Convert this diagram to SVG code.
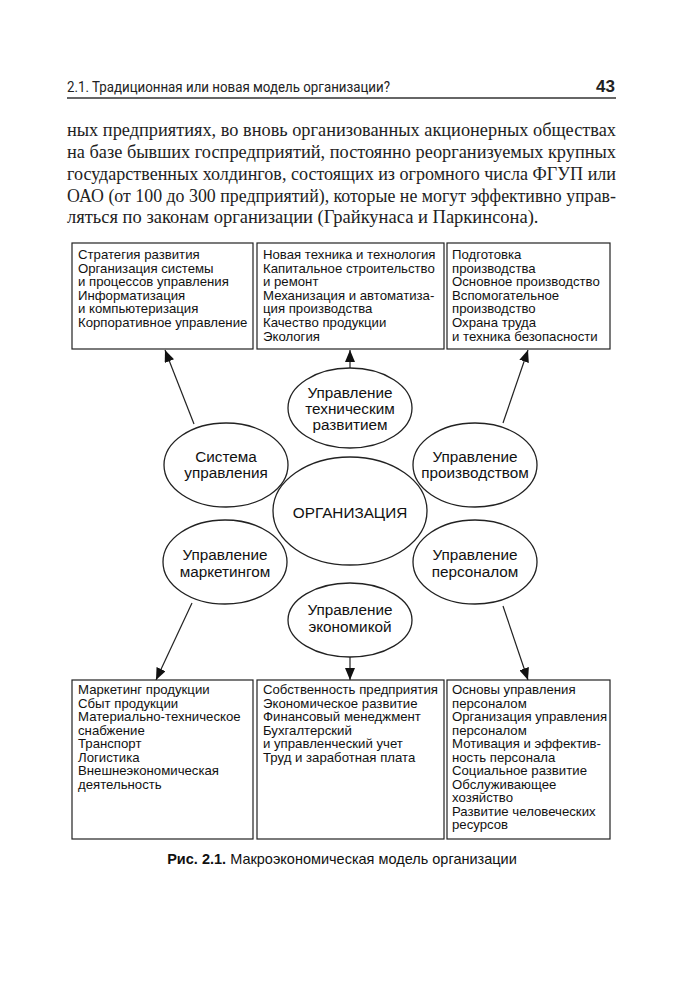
<svg xmlns="http://www.w3.org/2000/svg" width="683" height="1000" viewBox="0 0 683 1000">
<defs>
<style>
.hdr{font-family:Roboto,"Liberation Sans",sans-serif;font-size:15.5px;fill:#222}
.pn{font-family:"Liberation Sans",Arial,sans-serif;font-size:17px;font-weight:bold;fill:#222}
.para{font-family:"Liberation Serif","DejaVu Serif",serif;font-size:18.5px;fill:#222}
.box{fill:#fff;stroke:#222;stroke-width:1.2}
.bt{font-family:"Liberation Sans",Arial,sans-serif;font-size:13.2px;fill:#111}
.ell{fill:#fff;stroke:#222;stroke-width:1.3}
.et{font-family:"Liberation Sans",Arial,sans-serif;font-size:15.3px;fill:#111;text-anchor:middle}
.conn{stroke:#222;stroke-width:1.2;fill:none;marker-end:url(#ah)}
.cap{font-family:"Liberation Sans",Arial,sans-serif;font-size:14.5px;fill:#111}
</style>
<marker id="ah" viewBox="0 0 12 10" refX="12" refY="5" markerWidth="12" markerHeight="10" markerUnits="userSpaceOnUse" orient="auto">
<path d="M0,0 L12,5 L0,10 z" fill="#111"/>
</marker>
</defs>
<rect width="683" height="1000" fill="#fff"/>

<g id="header">
<text class="hdr" x="67" y="92" textLength="323" lengthAdjust="spacingAndGlyphs">2.1. Традиционная или новая модель организации?</text>
<text class="pn" x="615" y="92" text-anchor="end">43</text>
<line x1="67" y1="98" x2="616" y2="98" stroke="#333" stroke-width="1.3"/>
</g>

<g id="paragraph">
<text class="para" x="67" y="136" textLength="549" lengthAdjust="spacingAndGlyphs">ных предприятиях, во вновь организованных акционерных обществах</text>
<text class="para" x="67" y="158" textLength="549" lengthAdjust="spacingAndGlyphs">на базе бывших госпредприятий, постоянно реорганизуемых крупных</text>
<text class="para" x="67" y="180" textLength="549" lengthAdjust="spacingAndGlyphs">государственных холдингов, состоящих из огромного числа ФГУП или</text>
<text class="para" x="67" y="202" textLength="549" lengthAdjust="spacingAndGlyphs">ОАО (от 100 до 300 предприятий), которые не могут эффективно управ-</text>
<text class="para" x="67" y="223">ляться по законам организации (Грайкунаса и Паркинсона).</text>
</g>

<g id="box-top-1">
<rect class="box" x="72" y="243" width="181" height="106"/>
<text class="bt" x="78" y="259">Стратегия развития</text>
<text class="bt" x="78" y="272.6">Организация системы</text>
<text class="bt" x="78" y="286.2">и процессов управления</text>
<text class="bt" x="78" y="299.8">Информатизация</text>
<text class="bt" x="78" y="313.4">и компьютеризация</text>
<text class="bt" x="78" y="327">Корпоративное управление</text>
</g>

<g id="box-top-2">
<rect class="box" x="257" y="243" width="187" height="106"/>
<text class="bt" x="263" y="259">Новая техника и технология</text>
<text class="bt" x="263" y="272.6">Капитальное строительство</text>
<text class="bt" x="263" y="286.2">и ремонт</text>
<text class="bt" x="263" y="299.8">Механизация и автоматиза-</text>
<text class="bt" x="263" y="313.4">ция производства</text>
<text class="bt" x="263" y="327">Качество продукции</text>
<text class="bt" x="263" y="340.6">Экология</text>
</g>

<g id="box-top-3">
<rect class="box" x="447" y="243" width="163" height="106"/>
<text class="bt" x="452" y="259">Подготовка</text>
<text class="bt" x="452" y="272.6">производства</text>
<text class="bt" x="452" y="286.2">Основное производство</text>
<text class="bt" x="452" y="299.8">Вспомогательное</text>
<text class="bt" x="452" y="313.4">производство</text>
<text class="bt" x="452" y="327">Охрана труда</text>
<text class="bt" x="452" y="340.6">и техника безопасности</text>
</g>

<g id="connectors">
<line class="conn" x1="194" y1="424" x2="165" y2="350"/>
<line class="conn" x1="350" y1="368" x2="350" y2="350"/>
<line class="conn" x1="503" y1="423" x2="528" y2="350"/>
<line class="conn" x1="192" y1="603" x2="156" y2="680"/>
<line class="conn" x1="350" y1="657" x2="350" y2="680"/>
<line class="conn" x1="503" y1="606" x2="528" y2="680"/>
</g>

<g id="node-tech">
<ellipse class="ell" cx="350" cy="408" rx="62" ry="40"/>
<text class="et" x="350" y="398">Управление</text>
<text class="et" x="350" y="414">техническим</text>
<text class="et" x="350" y="430">развитием</text>
</g>

<g id="node-system">
<ellipse class="ell" cx="226" cy="465" rx="62" ry="42"/>
<text class="et" x="226" y="462">Система</text>
<text class="et" x="226" y="478">управления</text>
</g>

<g id="node-production">
<ellipse class="ell" cx="475" cy="465" rx="62" ry="42"/>
<text class="et" x="475" y="462">Управление</text>
<text class="et" x="475" y="478">производством</text>
</g>

<g id="node-org">
<ellipse class="ell" cx="350" cy="511" rx="77" ry="54"/>
<text class="et" x="350" y="518">ОРГАНИЗАЦИЯ</text>
</g>

<g id="node-marketing">
<ellipse class="ell" cx="225" cy="562" rx="62" ry="42"/>
<text class="et" x="225" y="560">Управление</text>
<text class="et" x="225" y="577">маркетингом</text>
</g>

<g id="node-personnel">
<ellipse class="ell" cx="475" cy="562" rx="62" ry="42"/>
<text class="et" x="475" y="560">Управление</text>
<text class="et" x="475" y="577">персоналом</text>
</g>

<g id="node-economy">
<ellipse class="ell" cx="350" cy="620" rx="62" ry="37"/>
<text class="et" x="350" y="615">Управление</text>
<text class="et" x="350" y="632">экономикой</text>
</g>

<g id="box-bottom-1">
<rect class="box" x="72" y="680" width="181" height="159"/>
<text class="bt" x="78" y="694">Маркетинг продукции</text>
<text class="bt" x="78" y="707.5">Сбыт продукции</text>
<text class="bt" x="78" y="721">Материально-техническое</text>
<text class="bt" x="78" y="734.5">снабжение</text>
<text class="bt" x="78" y="748">Транспорт</text>
<text class="bt" x="78" y="761.5">Логистика</text>
<text class="bt" x="78" y="775">Внешнеэкономическая</text>
<text class="bt" x="78" y="788.5">деятельность</text>
</g>

<g id="box-bottom-2">
<rect class="box" x="257" y="680" width="187" height="159"/>
<text class="bt" x="263" y="694">Собственность предприятия</text>
<text class="bt" x="263" y="707.5">Экономическое развитие</text>
<text class="bt" x="263" y="721">Финансовый менеджмент</text>
<text class="bt" x="263" y="734.5">Бухгалтерский</text>
<text class="bt" x="263" y="748">и управленческий учет</text>
<text class="bt" x="263" y="761.5">Труд и заработная плата</text>
</g>

<g id="box-bottom-3">
<rect class="box" x="447" y="680" width="163" height="159"/>
<text class="bt" x="452" y="694">Основы управления</text>
<text class="bt" x="452" y="707.5">персоналом</text>
<text class="bt" x="452" y="721">Организация управления</text>
<text class="bt" x="452" y="734.5">персоналом</text>
<text class="bt" x="452" y="748">Мотивация и эффектив-</text>
<text class="bt" x="452" y="761.5">ность персонала</text>
<text class="bt" x="452" y="775">Социальное развитие</text>
<text class="bt" x="452" y="788.5">Обслуживающее</text>
<text class="bt" x="452" y="802">хозяйство</text>
<text class="bt" x="452" y="815.5">Развитие человеческих</text>
<text class="bt" x="452" y="829">ресурсов</text>
</g>

<g id="caption">
<text class="cap" x="342" y="864" text-anchor="middle"><tspan font-weight="bold">Рис. 2.1.</tspan> Макроэкономическая модель организации</text>
</g>
</svg>
